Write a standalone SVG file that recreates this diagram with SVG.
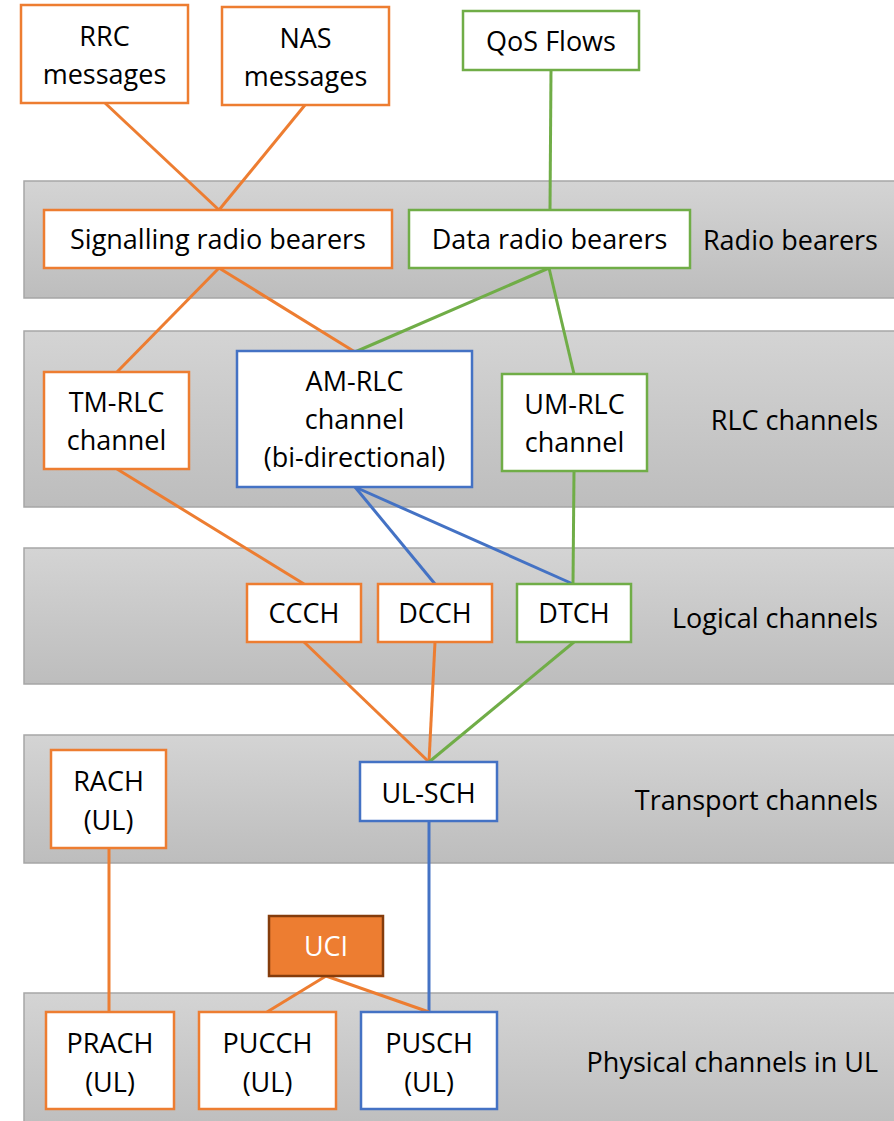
<svg xmlns="http://www.w3.org/2000/svg" width="894" height="1121" viewBox="0 0 894 1121">
<defs>
<linearGradient id="bandGrad" x1="0" y1="0" x2="0" y2="1">
<stop offset="0" stop-color="#d4d4d4"/>
<stop offset="1" stop-color="#bdbdbd"/>
</linearGradient>
<style>
.band{fill:url(#bandGrad);stroke:#a6a6a6;stroke-width:1.5}
.box{fill:#ffffff;stroke-width:2.5}
.o{stroke:#ED7D31}
.g{stroke:#70AD47}
.b{stroke:#4472C4}
.uci{fill:#ED7D31;stroke:#843C0C;stroke-width:2.5}
text{font-family:"Open Sans","Liberation Sans",sans-serif;font-size:27px;fill:#000000;text-anchor:middle}
.lbl{text-anchor:end}
.wt{fill:#ffffff}
.conn line{stroke-width:3;fill:none}
</style>
</defs>
<rect width="894" height="1121" fill="#ffffff"/>
<g id="bands">
<rect class="band" x="24" y="181" width="880" height="117"/>
<rect class="band" x="24" y="331" width="880" height="176"/>
<rect class="band" x="24" y="548" width="880" height="136"/>
<rect class="band" x="24" y="735" width="880" height="128"/>
<rect class="band" x="24" y="993" width="880" height="140"/>
</g>
<g id="layer-labels">
<text class="lbl" x="878" y="250">Radio bearers</text>
<text class="lbl" x="878" y="430">RLC channels</text>
<text class="lbl" x="878" y="628">Logical channels</text>
<text class="lbl" x="878" y="810">Transport channels</text>
<text class="lbl" x="878" y="1072">Physical channels in UL</text>
</g>
<g id="connectors" class="conn">
<line class="o" x1="105" y1="103" x2="219" y2="210"/>
<line class="o" x1="305" y1="105" x2="219" y2="210"/>
<line class="g" x1="551" y1="70" x2="550" y2="210"/>
<line class="o" x1="219" y1="268" x2="117" y2="372"/>
<line class="o" x1="219" y1="268" x2="355" y2="352"/>
<line class="g" x1="549" y1="268" x2="355" y2="352"/>
<line class="g" x1="549" y1="268" x2="574" y2="374"/>
<line class="o" x1="117" y1="469" x2="304" y2="584"/>
<line class="b" x1="355" y1="487" x2="435" y2="584"/>
<line class="b" x1="355" y1="487" x2="573" y2="584"/>
<line class="g" x1="574" y1="471" x2="573" y2="584"/>
<line class="o" x1="304" y1="642" x2="429" y2="762"/>
<line class="o" x1="435" y1="642" x2="429" y2="762"/>
<line class="g" x1="574" y1="642" x2="429" y2="762"/>
<line class="o" x1="109" y1="848" x2="109" y2="1012"/>
<line class="b" x1="429" y1="821" x2="429" y2="1012"/>
<line class="o" x1="326" y1="976" x2="267" y2="1012"/>
<line class="o" x1="326" y1="976" x2="429" y2="1012"/>
</g>
<g id="rrc">
<rect class="box o" x="21" y="5" width="167" height="98"/>
<text x="104.5" y="46">RRC</text>
<text x="104.5" y="84">messages</text>
</g>
<g id="nas">
<rect class="box o" x="222" y="7" width="167" height="98"/>
<text x="305.5" y="48">NAS</text>
<text x="305.5" y="86">messages</text>
</g>
<g id="qos">
<rect class="box g" x="463" y="11" width="176" height="59"/>
<text x="551" y="51">QoS Flows</text>
</g>
<g id="srb">
<rect class="box o" x="44" y="210" width="348" height="58"/>
<text x="218" y="249">Signalling radio bearers</text>
</g>
<g id="drb">
<rect class="box g" x="409" y="210" width="281" height="58"/>
<text x="549.5" y="249">Data radio bearers</text>
</g>
<g id="tm-rlc">
<rect class="box o" x="44" y="372" width="145" height="97"/>
<text x="116.5" y="412">TM-RLC</text>
<text x="116.5" y="450">channel</text>
</g>
<g id="am-rlc">
<rect class="box b" x="237" y="351" width="235" height="136"/>
<text x="354.5" y="391">AM-RLC</text>
<text x="354.5" y="429">channel</text>
<text x="354.5" y="467">(bi-directional)</text>
</g>
<g id="um-rlc">
<rect class="box g" x="502" y="374" width="145" height="97"/>
<text x="574.5" y="414">UM-RLC</text>
<text x="574.5" y="452">channel</text>
</g>
<g id="ccch">
<rect class="box o" x="247" y="584" width="114" height="58"/>
<text x="304" y="623">CCCH</text>
</g>
<g id="dcch">
<rect class="box o" x="378" y="584" width="114" height="58"/>
<text x="435" y="623">DCCH</text>
</g>
<g id="dtch">
<rect class="box g" x="517" y="584" width="114" height="58"/>
<text x="574" y="623">DTCH</text>
</g>
<g id="rach">
<rect class="box o" x="51" y="750" width="115" height="98"/>
<text x="108.5" y="791">RACH</text>
<text x="108.5" y="830">(UL)</text>
</g>
<g id="ul-sch">
<rect class="box b" x="360" y="762" width="137" height="59"/>
<text x="428.5" y="803">UL-SCH</text>
</g>
<g id="uci">
<rect class="uci" x="269" y="916" width="114" height="60"/>
<text class="wt" x="326" y="956">UCI</text>
</g>
<g id="prach">
<rect class="box o" x="46" y="1012" width="128" height="97"/>
<text x="110" y="1053">PRACH</text>
<text x="110" y="1092">(UL)</text>
</g>
<g id="pucch">
<rect class="box o" x="199" y="1012" width="137" height="97"/>
<text x="267.5" y="1053">PUCCH</text>
<text x="267.5" y="1092">(UL)</text>
</g>
<g id="pusch">
<rect class="box b" x="361" y="1012" width="136" height="97"/>
<text x="429" y="1053">PUSCH</text>
<text x="429" y="1092">(UL)</text>
</g>
</svg>
